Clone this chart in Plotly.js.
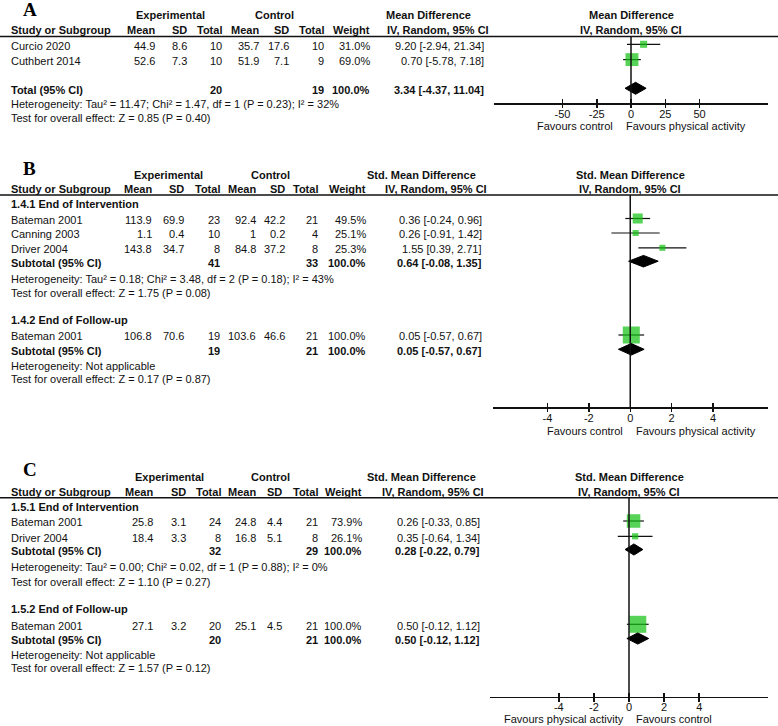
<!DOCTYPE html>
<html><head><meta charset="utf-8">
<script src="https://cdn.plot.ly/plotly-3.0.1.min.js"></script>
<style>html,body{margin:0;padding:0;background:#fff;}#chart{width:778px;height:726px;}</style>
</head><body><div id="chart"></div>
<script>
// ================= DATA =================
// Panel A : Mean Difference, IV, Random, 95% CI
const aStudy   = ['Curcio 2020', 'Cuthbert 2014'];
const aGroup   = [0, 0];
const aExpMean = [44.9, 52.6];
const aExpSD   = [8.6, 7.3];
const aExpN    = [10, 10];
const aCtlMean = [35.7, 51.9];
const aCtlSD   = [17.6, 7.1];
const aCtlN    = [10, 9];
const aWeight  = [31.0, 69.0];
const aEst     = [9.20, 0.70];
const aLo      = [-2.94, -5.78];
const aHi      = [21.34, 7.18];
const aSubHead = [];
const aSubName = ['Total (95% CI)'];
const aSubExpN = [20];
const aSubCtlN = [19];
const aSubW    = [100.0];
const aSubEst  = [3.34];
const aSubLo   = [-4.37];
const aSubHi   = [11.04];
const aHet     = ['Heterogeneity: Tau\u00b2 = 11.47; Chi\u00b2 = 1.47, df = 1 (P = 0.23); I\u00b2 = 32%'];
const aTest    = ['Test for overall effect: Z = 0.85 (P = 0.40)'];
const aTicks   = [-50, -25, 0, 25, 50];
const aFav     = ['Favours control', 'Favours physical activity'];

// Panel B : Std. Mean Difference
const bStudy   = ['Bateman 2001', 'Canning 2003', 'Driver 2004', 'Bateman 2001'];
const bGroup   = [0, 0, 0, 1];
const bExpMean = [113.9, 1.1, 143.8, 106.8];
const bExpSD   = [69.9, 0.4, 34.7, 70.6];
const bExpN    = [23, 10, 8, 19];
const bCtlMean = [92.4, 1, 84.8, 103.6];
const bCtlSD   = [42.2, 0.2, 37.2, 46.6];
const bCtlN    = [21, 4, 8, 21];
const bWeight  = [49.5, 25.1, 25.3, 100.0];
const bEst     = [0.36, 0.26, 1.55, 0.05];
const bLo      = [-0.24, -0.91, 0.39, -0.57];
const bHi      = [0.96, 1.42, 2.71, 0.67];
const bSubHead = ['1.4.1 End of Intervention', '1.4.2 End of Follow-up'];
const bSubName = ['Subtotal (95% CI)', 'Subtotal (95% CI)'];
const bSubExpN = [41, 19];
const bSubCtlN = [33, 21];
const bSubW    = [100.0, 100.0];
const bSubEst  = [0.64, 0.05];
const bSubLo   = [-0.08, -0.57];
const bSubHi   = [1.35, 0.67];
const bHet     = ['Heterogeneity: Tau\u00b2 = 0.18; Chi\u00b2 = 3.48, df = 2 (P = 0.18); I\u00b2 = 43%', 'Heterogeneity: Not applicable'];
const bTest    = ['Test for overall effect: Z = 1.75 (P = 0.08)', 'Test for overall effect: Z = 0.17 (P = 0.87)'];
const bTicks   = [-4, -2, 0, 2, 4];
const bFav     = ['Favours control', 'Favours physical activity'];

// Panel C : Std. Mean Difference
const cStudy   = ['Bateman 2001', 'Driver 2004', 'Bateman 2001'];
const cGroup   = [0, 0, 1];
const cExpMean = [25.8, 18.4, 27.1];
const cExpSD   = [3.1, 3.3, 3.2];
const cExpN    = [24, 8, 20];
const cCtlMean = [24.8, 16.8, 25.1];
const cCtlSD   = [4.4, 5.1, 4.5];
const cCtlN    = [21, 8, 21];
const cWeight  = [73.9, 26.1, 100.0];
const cEst     = [0.26, 0.35, 0.50];
const cLo      = [-0.33, -0.64, -0.12];
const cHi      = [0.85, 1.34, 1.12];
const cSubHead = ['1.5.1 End of Intervention', '1.5.2 End of Follow-up'];
const cSubName = ['Subtotal (95% CI)', 'Subtotal (95% CI)'];
const cSubExpN = [32, 20];
const cSubCtlN = [29, 21];
const cSubW    = [100.0, 100.0];
const cSubEst  = [0.28, 0.50];
const cSubLo   = [-0.22, -0.12];
const cSubHi   = [0.79, 1.12];
const cHet     = ['Heterogeneity: Tau\u00b2 = 0.00; Chi\u00b2 = 0.02, df = 1 (P = 0.88); I\u00b2 = 0%', 'Heterogeneity: Not applicable'];
const cTest    = ['Test for overall effect: Z = 1.10 (P = 0.27)', 'Test for overall effect: Z = 1.57 (P = 0.12)'];
const cTicks   = [-4, -2, 0, 2, 4];
const cFav     = ['Favours physical activity', 'Favours control'];

const colHeads = ['Mean', 'SD', 'Total', 'Mean', 'SD', 'Total', 'Weight'];

// ================= LAYOUT / STYLE =================
const W = 778, H = 726;
const FONT = 'Liberation Sans, Arial, Helvetica, sans-serif';
const INK = '#111111';
const GREEN = '#10c010';

const panels = [
  { letter:'A', effHdr:'Mean Difference',
    study:aStudy, group:aGroup, em:aExpMean, es:aExpSD, en:aExpN, cm:aCtlMean, cs:aCtlSD, cn:aCtlN, w:aWeight,
    est:aEst, lo:aLo, hi:aHi, subHead:aSubHead, subName:aSubName, subEN:aSubExpN, subCN:aSubCtlN, subW:aSubW,
    subEst:aSubEst, subLo:aSubLo, subHi:aSubHi, het:aHet, test:aTest, ticks:aTicks, fav:aFav,
    L:{ ax:'x', axo:'x4', dom:[494,768], range:[-100,100], letterY:9.8, h1:15, h2:30, line:36.5,
        rows:[44.3,59.6], subRows:[88.3], subHeadY:[], hetY:[103.7], testY:[118],
        axisY:103, favY:126, favOff:[-17.5,-6],
        cols:[156,188,222.7,259.5,289.5,325.3,371.3], ciRight:485, expC:170, ctlC:274,
        effHdrRight:472, ciHdrRight:490, dh:6 } },
  { letter:'B', effHdr:'Std. Mean Difference',
    study:bStudy, group:bGroup, em:bExpMean, es:bExpSD, en:bExpN, cm:bCtlMean, cs:bCtlSD, cn:bCtlN, w:bWeight,
    est:bEst, lo:bLo, hi:bHi, subHead:bSubHead, subName:bSubName, subEN:bSubExpN, subCN:bSubCtlN, subW:bSubW,
    subEst:bSubEst, subLo:bSubLo, subHi:bSubHi, het:bHet, test:bTest, ticks:bTicks, fav:bFav,
    L:{ ax:'x2', axo:'x5', dom:[492.5,768], range:[-6.65,6.65], letterY:168.3, h1:175, h2:189, line:195,
        rows:[218.5,233,247.8,335], subRows:[261.2,349.3], subHeadY:[204,320], hetY:[279,366], testY:[293.3,379.3],
        axisY:407.3, favY:430.7, favOff:[-6,5],
        cols:[153.3,185,220.5,257,286.3,319.3,366.5], ciRight:483, expC:168.3, ctlC:270.7,
        effHdrRight:477, ciHdrRight:488, dh:5.8 } },
  { letter:'C', effHdr:'Std. Mean Difference',
    study:cStudy, group:cGroup, em:cExpMean, es:cExpSD, en:cExpN, cm:cCtlMean, cs:cCtlSD, cn:cCtlN, w:cWeight,
    est:cEst, lo:cLo, hi:cHi, subHead:cSubHead, subName:cSubName, subEN:cSubExpN, subCN:cSubCtlN, subW:cSubW,
    subEst:cSubEst, subLo:cSubLo, subHi:cSubHi, het:cHet, test:cTest, ticks:cTicks, fav:cFav,
    L:{ ax:'x3', axo:'x6', dom:[490,768], range:[-7.92,7.92], letterY:469.7, h1:476.7, h2:491.7, line:497.7,
        rows:[521,536.3,624.3], subRows:[549.5,638.5], subHeadY:[506.7,609.3], hetY:[567.3,655.3], testY:[581.7,668.3],
        axisY:696.7, favY:719.3, favOff:[-4,6],
        cols:[154,186.7,221.7,257,282.7,319.3,363.3], ciRight:481, expC:169.3, ctlC:270,
        effHdrRight:477, ciHdrRight:485, dh:5.6 } }
];

const TXT_DY = 1.4;
const fmtCI = (e, l, h) => e.toFixed(2) + ' [' + l.toFixed(2) + ', ' + h.toFixed(2) + ']';
const axKey = a => 'xaxis' + (a === 'x' ? '' : a.slice(1));

const traces = [], annotations = [], shapes = [];
const layout = {
  width: W, height: H, margin: {l:0, r:0, t:0, b:0, pad:0},
  paper_bgcolor: '#ffffff', plot_bgcolor: 'rgba(0,0,0,0)', showlegend: false,
  yaxis: {domain:[0,1], range:[H,0], visible:false, fixedrange:true},
  font: {family: FONT, size: 11, color: INK}
};

function txt(x, y, s, anchor, bold, xref, extra) {
  const a = { xref: xref || 'paper', yref: 'y', x: xref ? x : x / W, y: y,
    text: bold ? '<b>' + s + '</b>' : s, xanchor: anchor, yanchor: 'middle',
    showarrow: false, font: {family: FONT, size: 11, color: INK}, borderpad: 0 };
  return Object.assign(a, extra || {});
}

panels.forEach(P => {
  const L = P.L;
  const pos = 1 - L.axisY / H;
  const axisCommon = { domain:[L.dom[0]/W, L.dom[1]/W], range:L.range, anchor:'free', position:pos,
    tickmode:'array', tickvals:P.ticks, showgrid:false, zeroline:false, fixedrange:true,
    ticklen:4, tickwidth:1.5, tickcolor:INK };
  // main axis: line, labels, upper half of each tick
  layout[axKey(L.ax)] = Object.assign({}, axisCommon, {
    showline:true, linecolor:INK, linewidth:1.5, ticks:'inside',
    ticktext:P.ticks.map(String), tickfont:{family:FONT, size:11, color:INK} });
  // overlay axis: lower half of each tick
  layout[axKey(L.axo)] = Object.assign({}, axisCommon, {
    overlaying:L.ax, showline:false, ticks:'outside', showticklabels:false });
  traces.push({ type:'scatter', x:[0], y:[-50], xaxis:L.axo, yaxis:'y', mode:'markers',
    marker:{size:1, opacity:0}, hoverinfo:'skip' });

  // Letter
  annotations.push(txt(21.7, L.letterY, '<b>' + P.letter + '</b>', 'left', false, null,
    {font:{family:'Liberation Serif, Times New Roman, serif', size:19, color:'#000'}}));

  // Header row 1
  annotations.push(txt(L.expC, L.h1, 'Experimental', 'center', true));
  annotations.push(txt(L.ctlC, L.h1, 'Control', 'center', true));
  annotations.push(txt(L.effHdrRight, L.h1, P.effHdr, 'right', true));
  annotations.push(txt(0, L.h1, P.effHdr, 'center', true, L.ax));
  // Header row 2
  annotations.push(txt(10, L.h2, 'Study or Subgroup', 'left', true));
  colHeads.forEach((h, i) => annotations.push(txt(L.cols[i], L.h2, h, 'right', true)));
  annotations.push(txt(L.ciHdrRight, L.h2, 'IV, Random, 95% CI', 'right', true));
  annotations.push(txt(0, L.h2, 'IV, Random, 95% CI', 'center', true, L.ax));

  // Rule under header (full width)
  shapes.push({type:'line', xref:'paper', yref:'y', x0:0, x1:1, y0:L.line, y1:L.line,
    line:{color:INK, width:1.5}});
  // Line of no effect
  shapes.push({type:'line', xref:L.ax, yref:'y', x0:0, x1:0, y0:L.line, y1:L.axisY,
    line:{color:INK, width:1.5}});

  // Subgroup headings
  P.subHead.forEach((s, g) => annotations.push(txt(10, L.subHeadY[g], s, 'left', true)));

  // Study rows
  P.study.forEach((s, i) => {
    const y = L.rows[i] + TXT_DY;
    annotations.push(txt(10, y, s, 'left', false));
    const vals = [P.em[i], P.es[i], P.en[i], P.cm[i], P.cs[i], P.cn[i], P.w[i].toFixed(1) + '%'];
    vals.forEach((v, k) => annotations.push(txt(L.cols[k], y, String(v), 'right', false)));
    annotations.push(txt(L.ciRight, y, fmtCI(P.est[i], P.lo[i], P.hi[i]), 'right', false));
  });

  // Study markers with CI
  traces.push({ type:'scatter', mode:'markers', xaxis:L.ax, yaxis:'y',
    x:P.est, y:L.rows,
    error_x:{ type:'data', symmetric:false,
      array:P.hi.map((h, i) => h - P.est[i]), arrayminus:P.lo.map((l, i) => P.est[i] - l),
      color:INK, thickness:1.2, width:0 },
    marker:{ symbol:'square', color:GREEN, size:P.w.map(w => 17 * Math.pow(w / 100, 0.75)), line:{width:0} },
    hoverinfo:'skip', cliponaxis:false });

  // Subtotals
  P.subName.forEach((s, g) => {
    const yr = L.subRows[g], y = yr + TXT_DY;
    annotations.push(txt(10, y, s, 'left', true));
    annotations.push(txt(L.cols[2], y, String(P.subEN[g]), 'right', true));
    annotations.push(txt(L.cols[5], y, String(P.subCN[g]), 'right', true));
    annotations.push(txt(L.cols[6], y, P.subW[g].toFixed(1) + '%', 'right', true));
    annotations.push(txt(L.ciRight, y, fmtCI(P.subEst[g], P.subLo[g], P.subHi[g]), 'right', true));
    traces.push({ type:'scatter', mode:'lines', xaxis:L.ax, yaxis:'y', fill:'toself',
      x:[P.subLo[g], P.subEst[g], P.subHi[g], P.subEst[g], P.subLo[g]],
      y:[yr, yr - L.dh, yr, yr + L.dh, yr],
      fillcolor:'#000', line:{color:'#000', width:1}, hoverinfo:'skip' });
    annotations.push(txt(10, L.hetY[g], P.het[g], 'left', false));
    annotations.push(txt(10, L.testY[g], P.test[g], 'left', false));
  });

  // Favours labels
  annotations.push(txt(0, L.favY, P.fav[0], 'right', false, L.ax, {xshift:L.favOff[0]}));
  annotations.push(txt(0, L.favY, P.fav[1], 'left', false, L.ax, {xshift:L.favOff[1]}));
});

layout.annotations = annotations;
layout.shapes = shapes;

Plotly.newPlot('chart', traces, layout, {staticPlot:true, displayModeBar:false});
</script>
</body></html>
